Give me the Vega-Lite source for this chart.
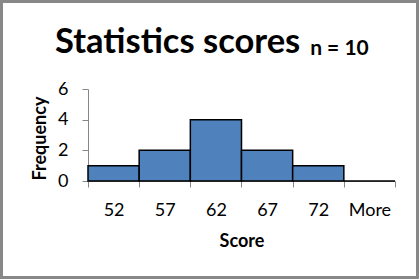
{
  "$schema": "https://vega.github.io/schema/vega-lite/v6.json",
  "width": 419,
  "height": 279,
  "autosize": "none",
  "padding": 0,
  "background": "white",
  "title": {
    "text": "Statistics scores",
    "subtitle": "\u200b\u00a0\u00a0\u00a0\u00a0\u00a0\u00a0\u00a0\u00a0\u00a0\u00a0\u00a0\u00a0\u00a0\u00a0\u00a0\u00a0\u00a0\u00a0\u00a0\u00a0\u00a0\u00a0\u00a0\u00a0\u00a0\u00a0\u00a0\u00a0\u00a0\u00a0\u00a0\u00a0\u00a0\u00a0\u00a0\u00a0\u00a0\u00a0\u00a0\u00a0\u00a0\u00a0\u00a0\u00a0\u00a0\u00a0\u00a0\u00a0\u00a0\u00a0n = 10",
    "orient": "top",
    "anchor": "start",
    "frame": "group",
    "offset": -60,
    "dx": 55,
    "font": "Lato",
    "fontSize": 34.5,
    "fontWeight": "bold",
    "color": "black",
    "subtitleFont": "Lato",
    "subtitleFontSize": 21,
    "subtitleFontWeight": "bold",
    "subtitleColor": "black",
    "subtitlePadding": -22
  },
  "data": {
    "values": [
      {"bin": "52", "frequency": 1},
      {"bin": "57", "frequency": 2},
      {"bin": "62", "frequency": 4},
      {"bin": "67", "frequency": 2},
      {"bin": "72", "frequency": 1},
      {"bin": "More", "frequency": 0}
    ]
  },
  "mark": {"type": "bar", "fill": "#4F81BD", "stroke": "black", "strokeWidth": 1.5},
  "encoding": {
    "x": {
      "field": "bin",
      "type": "ordinal",
      "sort": null,
      "scale": {"range": [88, 395], "paddingInner": 0, "paddingOuter": 0},
      "axis": {
        "orient": "bottom",
        "offset": -98,
        "tickBand": "extent",
        "tickSize": 6,
        "tickColor": "#868686",
        "domainColor": "#868686",
        "labelAngle": 0,
        "labelPadding": 14,
        "labelFont": "Lato",
        "labelFontSize": 18,
        "labelColor": "black",
        "title": "Score",
        "titleFont": "Lato",
        "titleFontSize": 18,
        "titleFontWeight": "bold",
        "titleColor": "black",
        "titlePadding": 13
      }
    },
    "y": {
      "field": "frequency",
      "type": "quantitative",
      "scale": {"domain": [0, 6], "range": [181, 89], "nice": false},
      "axis": {
        "orient": "left",
        "offset": -88,
        "values": [0, 2, 4, 6],
        "grid": false,
        "tickSize": 6,
        "tickColor": "#868686",
        "domainColor": "#868686",
        "labelFlush": false,
        "labelOverlap": false,
        "labelPadding": 14,
        "labelFont": "Lato",
        "labelFontSize": 18,
        "labelColor": "black",
        "title": "Frequency",
        "titleFont": "Lato",
        "titleFontSize": 18,
        "titleFontWeight": "bold",
        "titleColor": "black",
        "titlePadding": 8,
        "titleY": 138
      }
    }
  },
  "config": {"view": {"stroke": "#888888", "strokeWidth": 6, "fill": "white"}}
}
